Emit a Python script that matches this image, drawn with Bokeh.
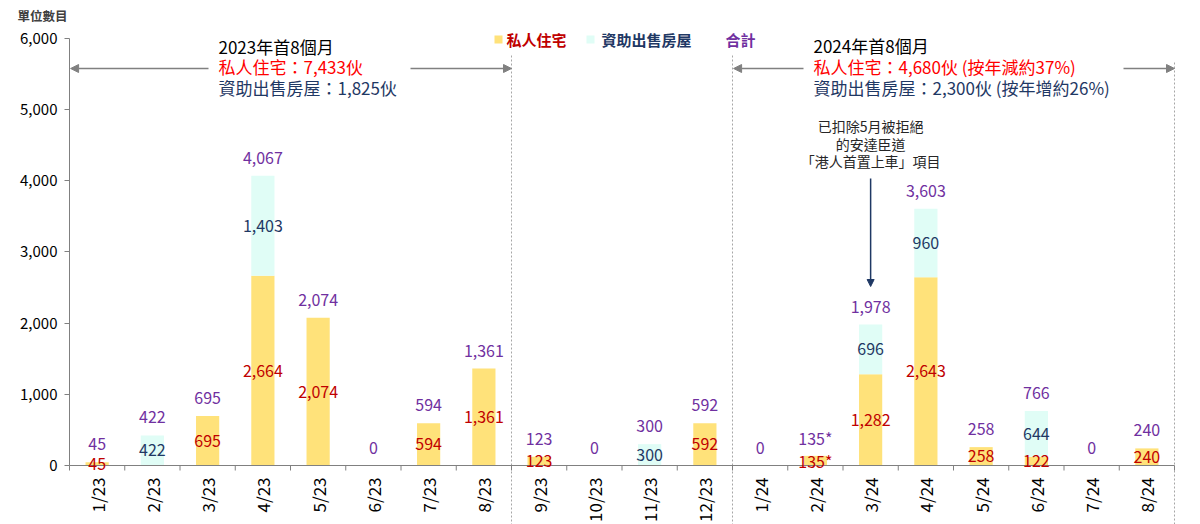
import numpy as np
from bokeh.plotting import figure
from bokeh.models import (ColumnDataSource, Range1d, FixedTicker, Arrow, NormalHead,
                          LinearAxis)
from bokeh.core.properties import value
from bokeh.embed import file_html
from bokeh.resources import INLINE

# ---- data -------------------------------------------------------------
months = ["1/23", "2/23", "3/23", "4/23", "5/23", "6/23", "7/23", "8/23",
          "9/23", "10/23", "11/23", "12/23",
          "1/24", "2/24", "3/24", "4/24", "5/24", "6/24", "7/24", "8/24"]
private = [45, 0, 695, 2664, 2074, 0, 594, 1361,
           123, 0, 0, 592,
           0, 135, 1282, 2643, 258, 122, 0, 240]
subsidised = [0, 422, 0, 1403, 0, 0, 0, 0,
              0, 0, 300, 0,
              0, 0, 696, 960, 0, 644, 0, 0]
footnote = ["", "", "", "", "", "", "", "",
            "", "", "", "",
            "", "*", "", "", "", "", "", ""]
y_ticks = [0, 1000, 2000, 3000, 4000, 5000, 6000]
period_edges = [0, 8, 12, 20]

summary_2023 = ["2023年首8個月", "私人住宅：7,433伙", "資助出售房屋：1,825伙"]
summary_2024 = ["2024年首8個月", "私人住宅：4,680伙 (按年減約37%)",
                "資助出售房屋：2,300伙 (按年增約26%)"]
note_lines = ["已扣除5月被拒絕", "的安達臣道", "「港人首置上車」項目"]
legend_names = ["私人住宅", "資助出售房屋", "合計"]
unit_caption = "單位數目"

# ---- styling ------------------------------------------------------------
FONT = "Noto Sans CJK TC"
GOLD = "#FFE27A"
MINT = "#E0FDF6"
RED = "#C00000"
BRIGHT_RED = "#FF0000"
NAVY = "#1F3864"
PURPLE = "#7030A0"
GREY = "#808080"
DOT = "#A6A6A6"

W, H = 1200, 524
AXIS_X = 69             # canvas x of the value axis
UNIT_X = 55.25          # pixels per month
ZERO_Y, TOP_Y = 465, 37.5
UNIT_Y = (ZERO_Y - TOP_Y) / 6000.0


def sx(px):
    """canvas x pixel -> data x"""
    return (px - AXIS_X) / UNIT_X


def sy(py):
    """canvas y pixel -> data y"""
    return (ZERO_Y - py) / UNIT_Y


n = len(months)
xs = np.arange(n) + 0.5
priv = np.array(private, dtype=float)
subs = np.array(subsidised, dtype=float)
total = priv + subs

# the frame covers the whole canvas so annotations can sit anywhere
p = figure(width=W, height=H, output_backend="svg", toolbar_location=None,
           title=None, x_axis_location=None, y_axis_location=None,
           x_range=Range1d(sx(0), sx(W)), y_range=Range1d(sy(H), sy(0)),
           min_border=0)
p.outline_line_color = None
p.grid.visible = False
p.background_fill_color = "white"

# value axis pinned at x = 0 (line and ticks); its labels are set as text below
ax = LinearAxis(fixed_location=0, bounds=(0, 6000),
                ticker=FixedTicker(ticks=y_ticks),
                major_label_overrides={t: "" for t in y_ticks},
                axis_line_color=GREY, major_tick_line_color=GREY,
                major_tick_out=5, major_tick_in=0, minor_tick_line_color=None)
p.add_layout(ax, "left")
p.text(x=np.zeros(len(y_ticks)), y=y_ticks, text=[f"{t:,}" for t in y_ticks],
       x_offset=-12, text_align="right", text_baseline="middle",
       text_font=value(FONT), text_font_size="15px", text_color="#000000")

# stacked bars
src = ColumnDataSource(dict(x=xs, private=priv, subsidised=subs, total=total))
p.vbar(x="x", bottom=0, top="private", width=0.42, fill_color=GOLD,
       line_color=None, source=src)
p.vbar(x="x", bottom="private", top="total", width=0.42, fill_color=MINT,
       line_color=None, source=src)

# period separators (dotted)
for edge, top_px in zip(period_edges[1:], [55, 55, 62]):
    p.segment(x0=edge, y0=sy(top_px), x1=edge, y1=sy(H), line_color=DOT,
              line_width=1, line_dash="2 2")

# category axis with ticks on the month boundaries
p.segment(x0=0, y0=0, x1=n, y1=0, line_color=GREY, line_width=1)
edges = np.arange(n + 1)
p.segment(x0=edges, y0=np.zeros(n + 1), x1=edges, y1=np.full(n + 1, -5 / UNIT_Y),
          line_color=GREY, line_width=1)
p.text(x=xs, y=np.zeros(n), text=months, angle=np.pi / 2, y_offset=12,
       text_align="right", text_baseline="middle", text_font=value(FONT),
       text_font_size="17px", text_color="#000000")


# value labels
def fmt(v, mark):
    return f"{int(v):,}{mark}"


pm = priv > 0
p.text(x=xs[pm], y=priv[pm] / 2,
       text=[fmt(v, m) for v, m, k in zip(priv, footnote, pm) if k],
       text_align="center", text_baseline="middle", text_font=value(FONT),
       text_font_size="16px", text_color=RED)
sm = subs > 0
p.text(x=xs[sm], y=(priv + subs / 2)[sm],
       text=[fmt(v, "") for v, k in zip(subs, sm) if k],
       text_align="center", text_baseline="middle", text_font=value(FONT),
       text_font_size="16px", text_color=NAVY)
p.text(x=xs, y=total, y_offset=-18,
       text=[fmt(v, m) for v, m in zip(total, footnote)],
       text_align="center", text_baseline="middle", text_font=value(FONT),
       text_font_size="16px", text_color=PURPLE)

# legend
p.scatter(x=[sx(498), sx(590)], y=[sy(39), sy(39)], marker="square", size=8,
          fill_color=[GOLD, MINT], line_color=None)
p.text(x=[sx(506), sx(601), sx(725)], y=[sy(39)] * 3, text=legend_names,
       text_align="left", text_baseline="middle", text_font=value(FONT),
       text_font_size="15px", text_font_style="bold",
       text_color=[RED, NAVY, PURPLE])

# period summaries
for lines, left_px, ys_px in [(summary_2023, 218, [46, 66, 87]),
                              (summary_2024, 813, [45, 66, 87])]:
    p.text(x=[sx(left_px)] * 3, y=[sy(v) for v in ys_px], text=lines,
           text_align="left", text_baseline="middle", text_font=value(FONT),
           text_font_size="17px", text_color=["#000000", BRIGHT_RED, NAVY])

arrow_y = sy(68)
for start_px, end in [(208, period_edges[0] + 0.02), (410, period_edges[1]),
                      (803, period_edges[2] + 0.02), (1123, period_edges[3])]:
    p.add_layout(Arrow(end=NormalHead(size=8, fill_color=GREY, line_color=GREY),
                       x_start=sx(start_px), y_start=arrow_y, x_end=end, y_end=arrow_y,
                       line_color=GREY, line_width=1.5))

# note about the Anderson Road project
note_x = xs[14]
p.text(x=[note_x] * 3, y=[sy(125), sy(143), sy(160)], text=note_lines,
       text_align="center", text_baseline="middle", text_font=value(FONT),
       text_font_size="14px", text_color="#262626")
p.add_layout(Arrow(end=NormalHead(size=7, fill_color=NAVY, line_color=NAVY),
                   x_start=note_x, y_start=sy(178), x_end=note_x, y_end=sy(286),
                   line_color=NAVY, line_width=1.5))

# unit caption above the value axis
p.text(x=[sx(17)], y=[sy(15)], text=[unit_caption], text_align="left",
       text_baseline="middle", text_font=value(FONT), text_font_size="12.5px",
       text_font_style="bold", text_color="#404040")

open("out.html", "w").write(file_html(p, INLINE))
